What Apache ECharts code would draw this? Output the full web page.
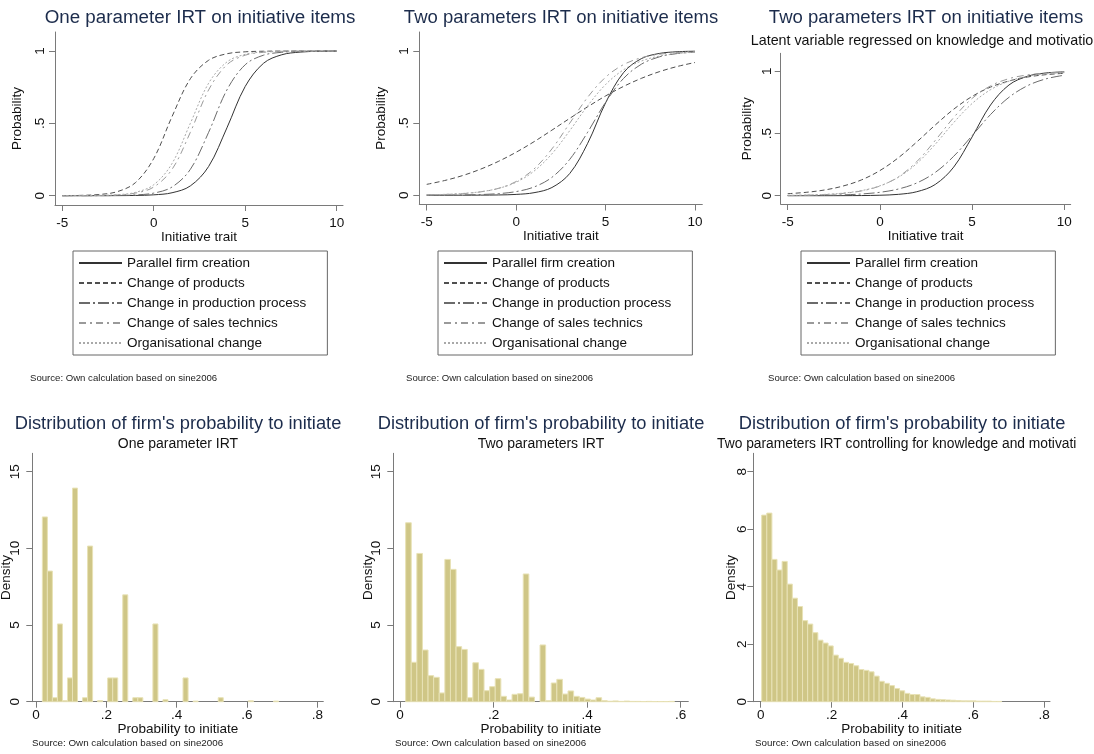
<!DOCTYPE html>
<html><head><meta charset="utf-8">
<script src="https://cdn.jsdelivr.net/npm/echarts@6/dist/echarts.min.js"></script>
<style>html,body{margin:0;padding:0;background:#fff}#c{width:1094px;height:754px}</style>
</head><body><div id="c"></div>
<script>
// ---------- DATA ----------
const itemNames = ['Parallel firm creation','Change of products','Change in production process','Change of sales technics','Organisational change'];
const traitX = [-5,-4,-3,-2,-1,0,1,2,3,4,5,6,7,8,9,10];

// One parameter IRT
const p1Parallel      = [0.0000,0.0000,0.0001,0.0005,0.0017,0.0059,0.0203,0.0676,0.2018,0.4688,0.7549,0.9150,0.9740,0.9924,0.9978,0.9994];
const p1Products      = [0.0007,0.0023,0.0081,0.0277,0.0903,0.2570,0.5470,0.8080,0.9360,0.9810,0.9944,0.9984,0.9995,0.9999,1.0000,1.0000];
const p1Production    = [0.0000,0.0001,0.0004,0.0015,0.0052,0.0180,0.0600,0.1820,0.4380,0.7310,0.9050,0.9710,0.9910,0.9975,0.9993,0.9998];
const p1Sales         = [0.0001,0.0004,0.0015,0.0052,0.0180,0.0600,0.1820,0.4380,0.7310,0.9050,0.9710,0.9910,0.9975,0.9993,0.9998,1.0000];
const p1Organisational= [0.0002,0.0006,0.0019,0.0067,0.0230,0.0759,0.2227,0.5000,0.7773,0.9241,0.9770,0.9933,0.9981,0.9994,0.9998,1.0000];

// Two parameters IRT
const p2Parallel      = [0.0000,0.0001,0.0002,0.0006,0.0018,0.0056,0.0175,0.0534,0.1510,0.3600,0.6400,0.8490,0.9466,0.9825,0.9944,0.9982];
const p2Products      = [0.0753,0.1018,0.1360,0.1800,0.2340,0.2980,0.3710,0.4510,0.5330,0.6130,0.6880,0.7540,0.8100,0.8560,0.8920,0.9200];
const p2Production    = [0.0004,0.0009,0.0020,0.0047,0.0109,0.0252,0.0570,0.1240,0.2490,0.4370,0.6440,0.8090,0.9080,0.9587,0.9819,0.9922];
const p2Sales         = [0.0025,0.0052,0.0110,0.0230,0.0470,0.0950,0.1820,0.3210,0.5000,0.6790,0.8180,0.9050,0.9530,0.9770,0.9890,0.9948];
const p2Organisational= [0.0030,0.0060,0.0120,0.0240,0.0470,0.0900,0.1670,0.2870,0.4480,0.6200,0.7670,0.8690,0.9300,0.9640,0.9820,0.9909];

// Two parameters IRT, latent variable regressed on knowledge and motivation
const p3Parallel      = [0.0000,0.0000,0.0001,0.0004,0.0012,0.0037,0.0109,0.0320,0.0903,0.2297,0.4725,0.7290,0.8900,0.9600,0.9865,0.9954];
const p3Products      = [0.0160,0.0272,0.0460,0.0776,0.1270,0.2020,0.3050,0.4320,0.5680,0.6950,0.7980,0.8730,0.9220,0.9540,0.9730,0.9840];
const p3Production    = [0.0009,0.0017,0.0034,0.0069,0.0138,0.0274,0.0537,0.1025,0.1870,0.3165,0.4825,0.6525,0.7910,0.8840,0.9390,0.9686];
const p3Sales         = [0.0020,0.0042,0.0088,0.0184,0.0382,0.0776,0.1510,0.2740,0.4440,0.6280,0.7820,0.8830,0.9410,0.9710,0.9860,0.9935];
const p3Organisational= [0.0026,0.0052,0.0105,0.0208,0.0410,0.0794,0.1480,0.2590,0.4130,0.5870,0.7410,0.8520,0.9210,0.9590,0.9790,0.9895];

// Histograms of probability to initiate (density per bin)
const h1BinStart = 0.0181, h1BinWidth = 0.01429;
const h1Density = [12.05,8.52,0.26,5.07,0.07,1.55,13.93,0,0.26,10.15,0,0.07,0,1.55,1.55,0,6.97,0,0.26,0.26,0,0,5.07,0,0.13,0,0,0,1.55,0,0.04,0,0,0,0,0.26,0,0,0,0,0,0.06,0,0,0,0,0.04];
const h2BinStart = 0.0121, h2BinWidth = 0.01197;
const h2Density = [11.67,2.57,9.67,3.37,1.70,1.59,0.57,9.28,8.63,3.59,3.41,0.26,2.54,2.11,0.72,0.98,1.50,0.35,0.11,0.48,0.52,8.33,0.30,0,3.70,0.07,1.22,1.46,0.50,0.70,0.35,0.28,0.17,0.11,0.26,0.07,0.03,0.05,0.02,0.04,0.02,0.02,0.01,0.02,0.01,0.01,0.01,0.02];
const h3BinStart = 0.0028, h3BinWidth = 0.01442;
const h3Density = [6.49,6.56,4.95,4.58,4.88,4.09,3.60,3.31,2.82,2.70,2.40,2.14,2.04,1.94,1.62,1.51,1.37,1.33,1.25,1.12,1.09,1.04,0.89,0.71,0.64,0.56,0.46,0.38,0.29,0.25,0.25,0.17,0.15,0.10,0.08,0.07,0.06,0.05,0.04,0.03,0.03,0.03,0.02,0.02,0.02,0.01,0.01];

const traitTicks = [-5,0,5,10];
const probTicks = [0,0.5,1];
const hist1XTicks = [0,0.2,0.4,0.6,0.8];
const hist2XTicks = [0,0.2,0.4,0.6];
const hist3XTicks = [0,0.2,0.4,0.6,0.8];
const hist12YTicks = [0,5,10,15];
const hist3YTicks = [0,2,4,6,8];

// ---------- STYLE ----------
const FONT = '"Liberation Sans", Arial, Helvetica, sans-serif';
const NAVY = '#1c2c4c';
const AXC = '#7a7a7a';
const lineStyles = {
  'Parallel firm creation':       {color:'#333333', type:'solid'},
  'Change of products':           {color:'#4f4f4f', type:[5,3]},
  'Change in production process': {color:'#6b6b6b', type:[11,3,2,3]},
  'Change of sales technics':     {color:'#9a9a9a', type:[7,4,2,4]},
  'Organisational change':        {color:'#a9a9a9', type:[2,2]}
};
const fmt = v => String(+v.toFixed(4)).replace(/^0\./,'.').replace(/^-0\./,'-.');

function xAx(gi, min, max, ticks, name, labelMargin, nameGap) {
  return {type:'value', gridIndex:gi, min, max, name, nameLocation:'middle', nameGap, nameMoveOverlap:false,
    nameTextStyle:{fontFamily:FONT, fontSize:13.5, color:'#111'},
    axisLine:{show:true, onZero:false, lineStyle:{color:AXC, width:1}},
    axisTick:{show:true, length:6, customValues:ticks, lineStyle:{color:AXC}},
    axisLabel:{customValues:ticks, formatter:fmt, margin:labelMargin, fontFamily:FONT, fontSize:13.5, color:'#111'},
    splitLine:{show:false}};
}
function yAx(gi, min, max, ticks, name, labelMargin, nameGap) {
  return {type:'value', gridIndex:gi, min, max, name, nameLocation:'middle', nameGap, nameMoveOverlap:false,
    nameTextStyle:{fontFamily:FONT, fontSize:13.5, color:'#111'},
    axisLine:{show:true, onZero:false, lineStyle:{color:AXC, width:1}},
    axisTick:{show:true, length:6, customValues:ticks, lineStyle:{color:AXC}},
    axisLabel:{customValues:ticks, formatter:fmt, rotate:90, margin:labelMargin, fontFamily:FONT, fontSize:13.5, color:'#111'},
    splitLine:{show:false}};
}

const G = (left, top, width, height) => ({left, top, width, height, containLabel:false, outerBoundsMode:'none'});
const grids = [
  G(55,    32,    288,   173),
  G(419.3, 32,    283,   172.5),
  G(780.7, 53.3,  290,   150.7),
  G(32.3,  453.3, 291,   248.4),
  G(393.3, 453.3, 295,   248.4),
  G(753.3, 453.3, 296.7, 248.4)
];

const xAxes = [
  xAx(0, -5.399, 10.347, traitTicks, 'Initiative trait', 11, 25),
  xAx(1, -5.414, 10.408, traitTicks, 'Initiative trait', 11, 25),
  xAx(2, -5.380, 10.347, traitTicks, 'Initiative trait', 11, 25),
  xAx(3, -0.0105, 0.8171, hist1XTicks, 'Probability to initiate', 7, 21),
  xAx(4, -0.0143, 0.6163, hist2XTicks, 'Probability to initiate', 7, 21),
  xAx(5, -0.0209, 0.8169, hist3XTicks, 'Probability to initiate', 7, 21)
];
const yAxes = [
  yAx(0, -0.0643, 1.1313, probTicks, 'Probability', 8, 31),
  yAx(1, -0.0643, 1.1313, probTicks, 'Probability', 8, 31),
  yAx(2, -0.0667, 1.1447, probTicks, 'Probability', 6, 26),
  yAx(3, 0, 16.2, hist12YTicks, 'Density', 10, 19),
  yAx(4, 0, 16.2, hist12YTicks, 'Density', 10, 18.5),
  yAx(5, 0, 8.64, hist3YTicks, 'Density', 4, 15.5)
];

function curve(gi, name, ys) {
  const st = lineStyles[name];
  return {type:'line', name, xAxisIndex:gi, yAxisIndex:gi,
    data: traitX.map((x,i)=>[x, ys[i]]),
    smooth:0.35, symbol:'none', showSymbol:false, silent:true,
    lineStyle:{color:st.color, width:1, type:st.type}, itemStyle:{color:st.color}};
}
function hist(gi, start, width, dens) {
  return {type:'custom', xAxisIndex:gi, yAxisIndex:gi, silent:true,
    data: dens.map((d,i)=>[start + i*width, start + (i+1)*width, d]),
    encode:{x:[0,1], y:2},
    renderItem(params, api) {
      const h = api.value(2);
      if (!(h > 0)) return null;
      const a = api.coord([api.value(0), h]);
      const b = api.coord([api.value(1), 0]);
      return {type:'rect', shape:{x:a[0], y:a[1], width:b[0]-a[0], height:b[1]-a[1]},
        style:{fill:'#cfc686', stroke:'#e8e2b6', lineWidth:1}};
    }};
}

const series = [
  curve(0,itemNames[0],p1Parallel), curve(0,itemNames[1],p1Products), curve(0,itemNames[2],p1Production), curve(0,itemNames[3],p1Sales), curve(0,itemNames[4],p1Organisational),
  curve(1,itemNames[0],p2Parallel), curve(1,itemNames[1],p2Products), curve(1,itemNames[2],p2Production), curve(1,itemNames[3],p2Sales), curve(1,itemNames[4],p2Organisational),
  curve(2,itemNames[0],p3Parallel), curve(2,itemNames[1],p3Products), curve(2,itemNames[2],p3Production), curve(2,itemNames[3],p3Sales), curve(2,itemNames[4],p3Organisational),
  hist(3,h1BinStart,h1BinWidth,h1Density),
  hist(4,h2BinStart,h2BinWidth,h2Density),
  hist(5,h3BinStart,h3BinWidth,h3Density)
];

function leg(left) {
  return {data:itemNames, orient:'vertical', left, top:251, padding:[5,21,5,5],
    itemWidth:43, itemHeight:14, itemGap:6, selectedMode:false,
    borderColor:'#666', borderWidth:1, backgroundColor:'#fff',
    itemStyle:{opacity:0},
    textStyle:{fontFamily:FONT, fontSize:13.5, color:'#111', lineHeight:14}};
}

function T(text, left, top, size, color, align, extra) {
  return Object.assign({text, left, top, padding:0, textAlign:align||'center', textVerticalAlign:'middle',
    textStyle:Object.assign({fontFamily:FONT, fontSize:size, fontWeight:'normal', color}, extra||{})});
}
const SRC = 'Source: Own calculation based on sine2006';
const titles = [
  T('One parameter IRT on initiative items', 200, 18, 18.8, NAVY),
  T('Two parameters IRT on initiative items', 561, 18, 18.5, NAVY),
  T('Two parameters IRT on initiative items', 926, 18, 18.5, NAVY),
  T('Latent variable regressed on knowledge and motivation', 926, 41, 14.3, '#111'),
  T("Distribution of firm's probability to initiate", 178, 424, 18.3, NAVY),
  T('One parameter IRT', 178, 444, 14, '#111'),
  T("Distribution of firm's probability to initiate", 541, 424, 18.3, NAVY),
  T('Two parameters IRT', 541, 444, 14, '#111'),
  T("Distribution of firm's probability to initiate", 902, 424, 18.3, NAVY),
  T('Two parameters IRT controlling for knowledge and motivation', 717, 444, 13.8, '#111', 'left', {width:362, overflow:'truncate', ellipsis:''}),
  T(SRC, 30, 378, 9.6, '#222', 'left'),
  T(SRC, 406, 378, 9.6, '#222', 'left'),
  T(SRC, 768, 378, 9.6, '#222', 'left'),
  T(SRC, 32, 743, 9.8, '#222', 'left'),
  T(SRC, 395, 743, 9.8, '#222', 'left'),
  T(SRC, 755, 743, 9.8, '#222', 'left')
];

const chart = echarts.init(document.getElementById('c'), null, {renderer:'canvas'});
chart.setOption({
  animation:false,
  backgroundColor:'#fff',
  title: titles,
  legend: [leg(73), leg(438), leg(801)],
  grid: grids,
  xAxis: xAxes,
  yAxis: yAxes,
  series
});
</script>
</body></html>
